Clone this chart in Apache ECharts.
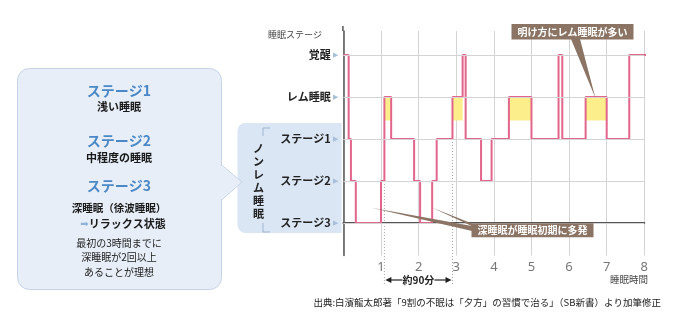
<!DOCTYPE html>
<html><head><meta charset="utf-8">
<script src="https://cdn.jsdelivr.net/npm/echarts@6/dist/echarts.min.js"></script>
<style>html,body{margin:0;padding:0;background:#fff}#c{width:680px;height:333px}</style>
</head><body><div id="c"></div>
<script>
// ---- data ----
const stageLabels = ['ステージ3', 'ステージ2', 'ステージ1', 'レム睡眠', '覚醒'];
const stageValues = [0, 1, 2, 3, 4];
const hourTicks = ['1', '2', '3', '4', '5', '6', '7', '8'];
const stepTimes  = [0, 0.14, 0.2, 0.33, 1.0, 1.09, 1.27, 1.88, 2.04, 2.36, 2.48, 2.9, 3.17, 3.25, 3.66, 3.94, 4.40, 5.0, 5.72, 5.82, 6.44, 7.0, 7.6, 8.08];
const stepStages = [4, 2, 1, 0, 1, 3, 2, 1, 0, 1, 2, 3, 4, 2, 1, 2, 3, 2, 4, 2, 3, 2, 4, 4];
const cycleMarks = [1.09, 2.9];
const remLevel = 3, remFillBottom = 2.44;
const panelTexts = {
  s1: 'ステージ1', s1d: '浅い睡眠',
  s2: 'ステージ2', s2d: '中程度の睡眠',
  s3: 'ステージ3', s3d: '深睡眠（徐波睡眠）', s3r: 'リラックス状態',
  note: ['最初の3時間までに', '深睡眠が2回以上', 'あることが理想']
};
const calloutTop = '明け方にレム睡眠が多い';
const calloutTopAnchor = [6.7, 3];
const calloutBottom = '深睡眠が睡眠初期に多発';
const calloutBottomAnchors = [[0.75, 0.36], [2.35, 0.37]];
const sourceText = '出典:白濱龍太郎著「9割の不眠は「夕方」の習慣で治る」（SB新書）より加筆修正';

// ---- derived ----
const lineData = stepTimes.map((t, i) => [t, stepStages[i]]);
const remSegs = [];
for (let i = 0; i < stepTimes.length - 1; i++) {
  if (stepStages[i] === remLevel) remSegs.push([stepTimes[i], stepTimes[i + 1]]);
}
function stageAt(t) {
  let s = stepStages[0];
  for (let i = 0; i < stepTimes.length; i++) { if (stepTimes[i] < t) s = stepStages[i]; }
  return s;
}

const FONT = '"Noto Sans CJK JP", "Noto Sans", sans-serif';
const BROWN = '#8b7464';
const chart = echarts.init(document.getElementById('c'), null, { renderer: 'canvas' });

const option = {
  animation: false,
  textStyle: { fontFamily: FONT },
  grid: { left: 343.4, width: 300.9, top: 31, height: 224.5 },
  xAxis: {
    type: 'value', min: 0, max: 8, interval: 1,
    axisLine: { show: true, lineStyle: { color: '#555', width: 2 } },
    axisTick: { show: false },
    splitLine: { show: true, lineStyle: { color: '#d4d4d4', width: 1 } },
    axisLabel: {
      color: '#777', fontSize: 13, fontFamily: '"Noto Sans", sans-serif', margin: 5,
      formatter: v => (v >= 1 && v <= 8) ? hourTicks[v - 1] : ''
    }
  },
  yAxis: {
    type: 'value', min: -0.775, max: 4.57,
    axisLine: { show: true, lineStyle: { color: '#555', width: 1.5 } },
    axisTick: { show: false, customValues: stageValues },
    splitLine: { show: false },
    axisLabel: {
      customValues: stageValues, margin: 5,
      formatter: v => '{n|' + stageLabels[Math.round(v)] + '}{t| ▶}',
      rich: {
        n: { fontSize: 11, fontWeight: 'bold', color: '#222', fontFamily: FONT },
        t: { fontSize: 7, color: '#a8bfdb', fontFamily: '"DejaVu Sans", sans-serif' }
      }
    }
  },
  series: [
    {
      type: 'custom', z: 1, silent: true,
      data: remSegs,
      renderItem: (params, api) => {
        const p0 = api.coord([api.value(0), remLevel]);
        const p1 = api.coord([api.value(1), remFillBottom]);
        return { type: 'rect', shape: { x: p0[0], y: p0[1], width: p1[0] - p0[0], height: p1[1] - p0[1] },
          style: { fill: '#fcee8a' } };
      },
      markLine: {
        silent: true, symbol: ['none', 'none'], label: { show: false },
        lineStyle: { color: '#d4d4d4', type: 'solid', width: 1 },
        data: stageValues.map(v => ({ yAxis: v }))
      }
    },
    {
      type: 'line', z: 3, step: 'end', data: lineData, symbol: 'none', clip: false,
      lineStyle: { color: '#e2658b', width: 2 }
    }
  ]
};
chart.setOption(option);

// ---- annotations ----
const px = p => chart.convertToPixel({ gridIndex: 0 }, p);
const g = [];
// y-axis top extension
const yTop = px([0, 4.57]);
g.push({ type: 'line', shape: { x1: yTop[0] - 0.5, y1: 26, x2: yTop[0] - 0.5, y2: yTop[1] }, style: { stroke: '#555', lineWidth: 1.5 } });
// axis title
g.push({ type: 'text', x: 322, y: 35, style: { text: '睡眠ステージ', fill: '#444', font: '9px ' + FONT, align: 'right', verticalAlign: 'middle' } });
g.push({ type: 'text', x: 648, y: 279, style: { text: '睡眠時間', fill: '#444', font: '9.5px ' + FONT, align: 'right', verticalAlign: 'middle' } });

// non-REM box
g.push({ type: 'rect', z: -5, shape: { x: 237.5, y: 123, width: 104, height: 110, r: [8, 0, 0, 8] }, style: { fill: '#dae6f3' } });
g.push({ type: 'polyline', shape: { points: [[270, 128], [263, 128], [263, 136]] }, style: { stroke: '#9fb5d2', lineWidth: 1, fill: null } });
g.push({ type: 'polyline', shape: { points: [[263, 223], [263, 232], [270, 232]] }, style: { stroke: '#9fb5d2', lineWidth: 1, fill: null } });
g.push({ type: 'text', x: 258.5, y: 181, style: { text: 'ノ\nン\nレ\nム\n睡\n眠', fill: '#222', font: 'bold 11px ' + FONT, lineHeight: 13, align: 'center', verticalAlign: 'middle' } });

// left panel
g.push({ type: 'rect', shape: { x: 17.5, y: 68.5, width: 204, height: 221, r: 12 }, style: { fill: '#e7eef7', stroke: '#c6d3e5', lineWidth: 1 } });
g.push({ type: 'polygon', shape: { points: [[220.5, 165], [242, 182], [220.5, 200]] }, style: { fill: '#e7eef7' } });
g.push({ type: 'polyline', shape: { points: [[221.5, 165], [242, 182], [221.5, 200]] }, style: { stroke: '#c6d3e5', lineWidth: 1, fill: null } });
const cx = 119;
const BLUE = '#4a88c7';
const addT = (t, y, font, color) => g.push({ type: 'text', x: cx, y: y, style: { text: t, fill: color, font: font + ' ' + FONT, align: 'center', verticalAlign: 'middle' } });
addT(panelTexts.s1, 91, 'bold 14px', BLUE);
addT(panelTexts.s1d, 107, 'bold 11px', '#1a1a1a');
addT(panelTexts.s2, 141, 'bold 14px', BLUE);
addT(panelTexts.s2d, 158, 'bold 11px', '#1a1a1a');
addT(panelTexts.s3, 186, 'bold 14px', BLUE);
addT(panelTexts.s3d, 208, 'bold 10.5px', '#1a1a1a');
g.push({ type: 'text', x: cx + 4, y: 224, style: {
  text: '{a|➡}{b|' + panelTexts.s3r + '}', align: 'center', verticalAlign: 'middle',
  rich: { a: { fill: '#8fb3da', font: '10px "DejaVu Sans", sans-serif' }, b: { fill: '#1a1a1a', font: 'bold 11px ' + FONT } } } });
addT(panelTexts.note[0], 243, '10px', '#222');
addT(panelTexts.note[1], 257.5, '10px', '#222');
addT(panelTexts.note[2], 272, '10px', '#222');

// cycle dotted lines + arrow
const yArrow = 280;
const cxs = cycleMarks.map(t => px([t, stageAt(t)]));
cxs.forEach(p => g.push({ type: 'line', shape: { x1: p[0], y1: p[1], x2: p[0], y2: 284 }, style: { stroke: '#a0a0a0', lineWidth: 1, lineDash: [1, 2] } }));
const xa = cxs[0][0], xb = cxs[1][0], xm = (xa + xb) / 2;
g.push({ type: 'line', shape: { x1: xa + 4, y1: yArrow, x2: xm - 16, y2: yArrow }, style: { stroke: '#222', lineWidth: 1.2 } });
g.push({ type: 'line', shape: { x1: xm + 16, y1: yArrow, x2: xb - 4, y2: yArrow }, style: { stroke: '#222', lineWidth: 1.2 } });
g.push({ type: 'polygon', shape: { points: [[xa + 1, yArrow], [xa + 7, yArrow - 3], [xa + 7, yArrow + 3]] }, style: { fill: '#222' } });
g.push({ type: 'polygon', shape: { points: [[xb - 1, yArrow], [xb - 7, yArrow - 3], [xb - 7, yArrow + 3]] }, style: { fill: '#222' } });
g.push({ type: 'text', x: xm, y: yArrow, style: { text: '約90分', fill: '#222', font: 'bold 10px ' + FONT, align: 'center', verticalAlign: 'middle' } });

// top callout
const ta = px(calloutTopAnchor);
g.push({ type: 'polygon', z: 10, shape: { points: [[571, 39], [580, 39], [ta[0], ta[1] + 1]] }, style: { fill: BROWN } });
g.push({ type: 'rect', z: 10, shape: { x: 511.5, y: 24, width: 122, height: 15.5 }, style: { fill: BROWN } });
g.push({ type: 'text', z: 11, x: 572.5, y: 32, style: { text: calloutTop, fill: '#fff', font: 'bold 10px ' + FONT, align: 'center', verticalAlign: 'middle' } });

// bottom callout
const ba = calloutBottomAnchors.map(px);
g.push({ type: 'polygon', z: 10, shape: { points: [[ba[0][0], ba[0][1]], [472, 226], [472, 231]] }, style: { fill: BROWN } });
g.push({ type: 'polygon', z: 10, shape: { points: [[ba[1][0], ba[1][1]], [472, 223.5], [476, 228]] }, style: { fill: BROWN } });
g.push({ type: 'rect', z: 10, shape: { x: 471.5, y: 223.3, width: 122, height: 14 }, style: { fill: BROWN } });
g.push({ type: 'text', z: 11, x: 532.5, y: 230.5, style: { text: calloutBottom, fill: '#fff', font: 'bold 10px ' + FONT, align: 'center', verticalAlign: 'middle' } });

// source
g.push({ type: 'text', x: 661, y: 302, style: { text: sourceText, fill: '#222', font: '9.5px ' + FONT, align: 'right', verticalAlign: 'middle' } });

chart.setOption({ graphic: { elements: g } });
</script>
</body></html>
